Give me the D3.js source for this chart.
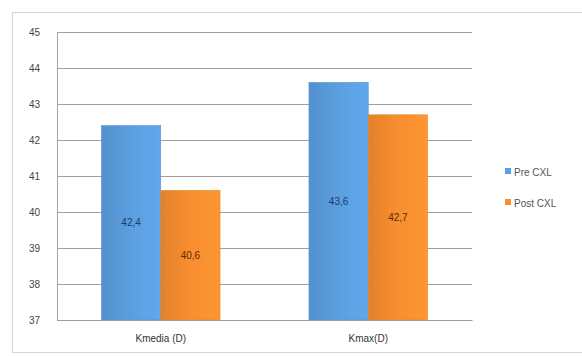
<!DOCTYPE html>
<html>
<head>
<meta charset="utf-8">
<script src="https://cdn.jsdelivr.net/npm/d3@7"></script>
<style>
  html, body { margin: 0; padding: 0; background: #fff; }
  svg { display: block; font-family: "Liberation Sans", Arial, sans-serif; }
</style>
</head>
<body>
<svg id="chart" width="582" height="356"></svg>
<script>
// Corneal keratometry before and after cross-linking
const categories = ["Kmedia (D)", "Kmax(D)"];
const seriesNames = ["Pre CXL", "Post CXL"];
const preValues = [42.4, 43.6];
const postValues = [40.6, 42.7];
const yTicks = [37, 38, 39, 40, 41, 42, 43, 44, 45];

const colors = { "Pre CXL": "#5b9fe0", "Post CXL": "#f88e30" };
const labelColors = { "Pre CXL": "#1d3b66", "Post CXL": "#5a2e08" };

const svg = d3.select("#chart");
const W = 582, H = 356;
const margin = { left: 57, right: 110, top: 32, bottom: 36 };
const plotW = W - margin.left - margin.right;
const plotH = H - margin.top - margin.bottom;

// outer chart frame
svg.append("rect")
  .attr("x", 12.5).attr("y", 12.5)
  .attr("width", W + 10).attr("height", 340)
  .attr("fill", "#fff").attr("stroke", "#d4d4d4");

const g = svg.append("g").attr("transform", `translate(${margin.left},${margin.top})`);

const x = d3.scaleBand().domain(categories).range([0, plotW]).paddingInner(0).paddingOuter(0);
const x1 = d3.scaleBand().domain(seriesNames).range([0, x.bandwidth()]).paddingInner(0).paddingOuter(0.75);
const y = d3.scaleLinear().domain([37, 45]).range([plotH, 0]);

// horizontal gridlines
g.append("g")
  .selectAll("line")
  .data(yTicks)
  .join("line")
  .attr("x1", 0).attr("x2", plotW)
  .attr("y1", d => Math.round(y(d)) + 0.5).attr("y2", d => Math.round(y(d)) + 0.5)
  .attr("stroke", "#a0a0a0").attr("stroke-width", 1);

// y axis
const yAxis = g.append("g")
  .call(d3.axisLeft(y).tickValues(yTicks).tickSize(0).tickPadding(17).tickFormat(d3.format("d")));
yAxis.select(".domain").attr("stroke", "#a0a0a0");
yAxis.selectAll("text").attr("font-size", 10).attr("fill", "#444");

// bar gradients
const defs = svg.append("defs");
seriesNames.forEach((s, i) => {
  const grad = defs.append("linearGradient").attr("id", "grad" + i)
    .attr("x1", "0%").attr("x2", "100%").attr("y1", "0%").attr("y2", "0%");
  const base = d3.color(colors[s]);
  grad.append("stop").attr("offset", "0%").attr("stop-color", base.darker(0.25));
  grad.append("stop").attr("offset", "50%").attr("stop-color", base);
  grad.append("stop").attr("offset", "100%").attr("stop-color", base.brighter(0.15));
});

const rows = categories.map((c, i) => ({
  category: c,
  values: [
    { series: "Pre CXL", value: preValues[i] },
    { series: "Post CXL", value: postValues[i] }
  ]
}));

const groups = g.selectAll(".grp")
  .data(rows)
  .join("g")
  .attr("class", "grp")
  .attr("transform", d => `translate(${x(d.category)},0)`);

groups.selectAll("rect")
  .data(d => d.values)
  .join("rect")
  .attr("x", d => x1(d.series))
  .attr("y", d => y(d.value))
  .attr("width", x1.bandwidth())
  .attr("height", d => y(37) - y(d.value))
  .attr("fill", d => `url(#grad${seriesNames.indexOf(d.series)})`)
  .attr("stroke", d => d3.color(colors[d.series]).darker(0.2))
  .attr("stroke-width", 0.6);

const fmt = v => d3.format(".1f")(v).replace(".", ",");
groups.selectAll("text.val")
  .data(d => d.values)
  .join("text")
  .attr("class", "val")
  .attr("x", d => x1(d.series) + x1.bandwidth() / 2)
  .attr("y", d => (y(d.value) + y(37)) / 2)
  .attr("dy", "0.35em")
  .attr("text-anchor", "middle")
  .attr("font-size", 10)
  .attr("fill", d => labelColors[d.series])
  .text(d => fmt(d.value));

// x axis
const xAxis = g.append("g")
  .attr("transform", `translate(0,${plotH})`)
  .call(d3.axisBottom(x).tickSize(0).tickPadding(15));
xAxis.select(".domain").attr("stroke", "#a0a0a0");
xAxis.selectAll("text").attr("font-size", 10).attr("fill", "#333");

// legend
const legend = svg.append("g").attr("transform", "translate(505,172)");
seriesNames.forEach((s, i) => {
  const row = legend.append("g").attr("transform", `translate(0,${i * 31})`);
  row.append("rect").attr("x", 0).attr("y", -4).attr("width", 6).attr("height", 6)
    .attr("fill", colors[s]);
  row.append("text").attr("x", 9).attr("y", 0).attr("dy", "0.35em")
    .attr("font-size", 10).attr("fill", "#555").text(s);
});
</script>
</body>
</html>
